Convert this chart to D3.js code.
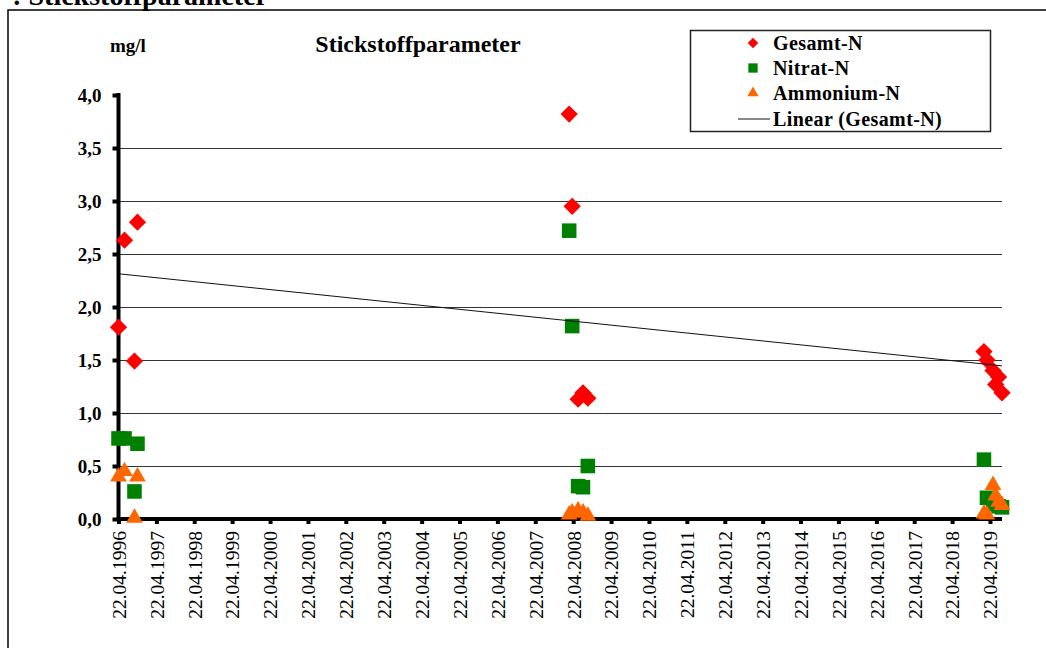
<!DOCTYPE html>
<html>
<head>
<meta charset="utf-8">
<script src="https://cdn.jsdelivr.net/npm/d3@7"></script>
<style>
  html, body { margin: 0; padding: 0; background: #fff; overflow: hidden; }
  svg { display: block; }
  text { font-family: "Liberation Serif", "Times New Roman", serif; fill: #000; }
</style>
</head>
<body>
<svg id="chart" width="1046" height="648"></svg>
<script>
// Sampling dates (dd.mm.yyyy) and measured concentrations in mg/l
const sampleDates = [
  "22.04.1996", "19.06.1996", "23.09.1996", "22.10.1996",
  "14.03.2008", "12.04.2008", "08.06.2008", "25.07.2008", "10.09.2008",
  "23.02.2019", "24.03.2019", "21.05.2019", "16.06.2019", "14.07.2019", "16.08.2019"
];
const gesamtN   = [1.81, 2.63, 1.49, 2.80,  3.82, 2.95, 1.13, 1.19, 1.14,  1.58, 1.50, 1.40, 1.27, 1.34, 1.19];
const nitratN   = [0.76, 0.76, 0.26, 0.71,  2.72, 1.82, 0.31, 0.30, 0.50,  0.56, 0.20, 0.17, 0.14, 0.12, 0.11];
const ammoniumN = [0.40, 0.45, 0.01, 0.40,  0.04, 0.06, 0.08, 0.06, 0.03,  0.05, 0.04, 0.32, 0.22, 0.16, 0.13];

const yTickValues = [0, 0.5, 1, 1.5, 2, 2.5, 3, 3.5, 4];
const xTickLabels = [
  "22.04.1996", "22.04.1997", "22.04.1998", "22.04.1999", "22.04.2000", "22.04.2001",
  "22.04.2002", "22.04.2003", "22.04.2004", "22.04.2005", "22.04.2006", "22.04.2007",
  "22.04.2008", "22.04.2009", "22.04.2010", "22.04.2011", "22.04.2012", "22.04.2013",
  "22.04.2014", "22.04.2015", "22.04.2016", "22.04.2017", "22.04.2018", "22.04.2019"
];
const axisEndDate = "16.08.2019";

const seriesNames = ["Gesamt-N", "Nitrat-N", "Ammonium-N", "Linear (Gesamt-N)"];

const parse = d3.timeParse("%d.%m.%Y");
const dates = sampleDates.map(parse);

const svg = d3.select("#chart");

// Outer frame of the figure (continues past the right and bottom edges)
svg.append("rect")
  .attr("x", 8).attr("y", 10).attr("width", 1100).attr("height", 700)
  .attr("fill", "none").attr("stroke", "#000").attr("stroke-width", 1.5);

// Caption line above the frame
svg.append("text")
  .attr("x", 268).attr("y", 5)
  .attr("text-anchor", "end")
  .style("font-size", "28px").style("font-weight", "bold")
  .text(": Stickstoffparameter");

const x = d3.scaleTime()
  .domain([parse(xTickLabels[0]), parse(axisEndDate)])
  .range([118.5, 1002]);
const y = d3.scaleLinear().domain([0, 4]).range([519, 95]);

// Horizontal gridlines
svg.append("g")
  .selectAll("line")
  .data(yTickValues.filter(v => v > 0 && v < 4))
  .join("line")
  .attr("x1", x.range()[0]).attr("x2", x.range()[1])
  .attr("y1", d => Math.round(y(d)) + 0.5).attr("y2", d => Math.round(y(d)) + 0.5)
  .attr("stroke", "#333").attr("stroke-width", 1);

// Y axis
const yAxis = svg.append("g")
  .attr("transform", `translate(${x.range()[0]},0)`)
  .call(d3.axisLeft(y).tickValues(yTickValues).tickSize(6).tickPadding(11)
    .tickFormat(d => d3.format(".1f")(d).replace(".", ",")));
yAxis.select(".domain").attr("stroke", "#000").attr("stroke-width", 4)
  .attr("d", `M0,${y(4) - 2}V${y(0)}`);
yAxis.selectAll(".tick line").attr("stroke", "#000").attr("stroke-width", 4);
yAxis.selectAll(".tick text")
  .style("font-size", "19px").style("font-weight", "bold")
  .style("font-family", '"Liberation Serif", serif');

// X axis
const xAxis = svg.append("g")
  .attr("transform", `translate(0,${y(0)})`)
  .call(d3.axisBottom(x).tickValues(xTickLabels.map(parse)).tickSize(5)
    .tickFormat(d3.timeFormat("%d.%m.%Y")));
xAxis.select(".domain").attr("stroke", "#000").attr("stroke-width", 4)
  .attr("d", `M${x.range()[0] - 2},0H${x.range()[1]}`);
xAxis.selectAll(".tick line").attr("stroke", "#000").attr("stroke-width", 4);
xAxis.selectAll(".tick text")
  .style("font-size", "19.5px").style("font-family", '"Liberation Serif", serif')
  .attr("text-anchor", "end")
  .attr("transform", "rotate(-90)")
  .attr("x", -12).attr("y", 0).attr("dy", "0.35em");

// Markers
const diamond = d3.symbol().type(d3.symbolDiamond2);
const square = d3.symbol().type(d3.symbolSquare2);
const triangle = d3.symbol().type(d3.symbolTriangle2);

const plot = svg.append("g");
plot.selectAll(".gesamt").data(gesamtN).join("path")
  .attr("class", "gesamt")
  .attr("d", diamond.size(190)())
  .attr("transform", (d, i) => `translate(${x(dates[i])},${y(d)})`)
  .attr("fill", "#ff0000");
plot.selectAll(".nitrat").data(nitratN).join("path")
  .attr("class", "nitrat")
  .attr("d", square.size(270)())
  .attr("transform", (d, i) => `translate(${x(dates[i])},${y(d)})`)
  .attr("fill", "#008000");
plot.selectAll(".ammonium").data(ammoniumN).join("path")
  .attr("class", "ammonium")
  .attr("d", triangle.size(200)())
  .attr("transform", (d, i) => `translate(${x(dates[i])},${y(d)})`)
  .attr("fill", "#ff6600");

// Linear trend of Gesamt-N (least squares over time)
const tx = dates.map(d => +d);
const mx = d3.mean(tx), my = d3.mean(gesamtN);
const slope = d3.sum(tx, (t, i) => (t - mx) * (gesamtN[i] - my)) / d3.sum(tx, t => (t - mx) ** 2);
const icpt = my - slope * mx;
const [t0, t1] = d3.extent(tx);
plot.append("line")
  .attr("x1", x(t0)).attr("y1", y(icpt + slope * t0))
  .attr("x2", x(t1)).attr("y2", y(icpt + slope * t1))
  .attr("stroke", "#111").attr("stroke-width", 1);

// Titles
svg.append("text")
  .attr("x", 418).attr("y", 52).attr("text-anchor", "middle")
  .style("font-size", "24px").style("font-weight", "bold")
  .text("Stickstoffparameter");
svg.append("text")
  .attr("x", 110).attr("y", 52)
  .style("font-size", "19px").style("font-weight", "bold")
  .text("mg/l");

// Legend
const legend = svg.append("g");
legend.append("rect")
  .attr("x", 690.5).attr("y", 30.5).attr("width", 300).attr("height", 101)
  .attr("fill", "#fff").attr("stroke", "#222").attr("stroke-width", 1.5);
const legendY = [43, 68, 93, 119];
const legendMarks = [
  g => g.append("path").attr("d", diamond.size(70)()).attr("fill", "#ff0000"),
  g => g.append("path").attr("d", square.size(110)()).attr("fill", "#008000"),
  g => g.append("path").attr("d", triangle.size(90)()).attr("fill", "#ff6600"),
  g => g.append("line").attr("x1", -15).attr("x2", 17).attr("stroke", "#111").attr("stroke-width", 1)
];
seriesNames.forEach((name, i) => {
  const row = legend.append("g").attr("transform", `translate(753,${legendY[i]})`);
  legendMarks[i](row);
  row.append("text").attr("x", 20).attr("dy", "0.35em")
    .style("font-size", "20px").style("font-weight", "bold")
    .style("letter-spacing", "0.4px")
    .text(name);
});
</script>
</body>
</html>
